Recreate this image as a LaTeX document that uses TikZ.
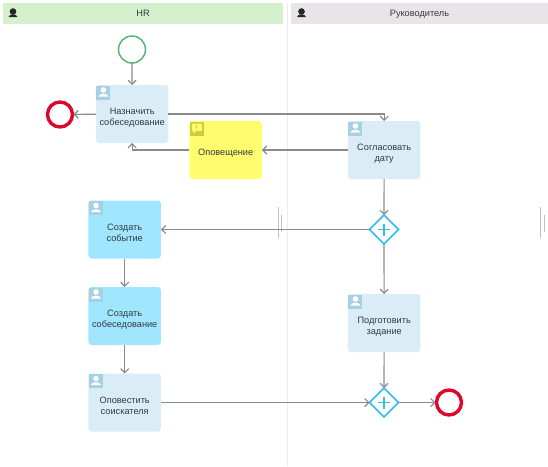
\documentclass[tikz,border=0pt]{standalone}
\usepackage{fontspec}
\setmainfont{Liberation Sans}
\usetikzlibrary{arrows.meta,calc,shapes.geometric}
\definecolor{verde}{HTML}{D5F0CC}
\definecolor{gris}{HTML}{E8E4E8}
\definecolor{claro}{HTML}{DAEDF7}
\definecolor{vivo}{HTML}{A0E6FF}
\definecolor{nota}{HTML}{FFFD6E}
\definecolor{notaicono}{HTML}{CFCB3C}
\definecolor{icono}{HTML}{A5D1E3}
\definecolor{rojo}{HTML}{E0052A}
\definecolor{inicio}{HTML}{5CB574}
\definecolor{puerta}{HTML}{2FBDEE}
\definecolor{flecha}{HTML}{8A8A8A}
\definecolor{texto}{HTML}{333A40}
\tikzset{
  >={Straight Barb[length=4pt,width=8pt]},
  flujo/.style={->, flecha, line width=1.2pt},
  carril/.style={draw=gray!15, line width=0.8pt},
  marca/.style={draw=gray!50, line width=0.8pt},
  cabecera/.style={inner sep=0pt, minimum height=21, text=texto, text height=7, text depth=1.5, font=\fontsize{9.2}{11}\selectfont},
  caja/.style={rounded corners=3pt, inner sep=0pt, minimum width=72.5, minimum height=58, outer sep=0pt},
  rotulo/.style={align=center, text=texto, font=\fontsize{9.2}{11}\selectfont, yshift=-3.5},
  tarea/.style={caja, fill=claro},
  tareaviva/.style={caja, fill=vivo},
  aviso/.style={caja, fill=nota},
  comienzo/.style={circle, draw=inicio, fill=white, line width=1.5pt, minimum size=27, inner sep=0pt, outer sep=0pt},
  fin/.style={circle, draw=rojo, fill=white, line width=3.4pt, minimum size=25, inner sep=0pt, outer sep=1pt},
  puertaand/.style={diamond, draw=puerta, fill=white, line width=1.5pt, minimum width=29, minimum height=29, inner sep=0pt, outer sep=0pt,
    path picture={\draw[puerta, line width=1.6pt] (path picture bounding box.center) +(-6,0) -- +(6,0) +(0,-6) -- +(0,6);}},
  usuario/.pic={
    \fill[icono] (0.5,0.5) rectangle (14.5,14.5);
    \fill[white] (7.5,5) circle (2.8);
    \fill[white] (2.5,11.5) .. controls (3,7.8) and (12,7.8) .. (12.5,11.5) -- cycle;
  },
  persona/.pic={
    \fill[black!85] (0,-1.5) circle (3.3);
    \fill[black!85] (-4.5,4.2) .. controls (-4,0.3) and (4,0.3) .. (4.5,4.2) -- cycle;
    \fill[black!85] (-3.2,-2) rectangle (3.2,-1.2);
  },
  globo/.pic={
    \fill[notaicono] (0.5,0.5) rectangle (14.5,14.5);
    \fill[nota, rounded corners=0.8pt] (2.5,2.5) -- (12.5,2.5) -- (12.5,10) -- (7,10) -- (4,12.8) -- (4,10) -- (2.5,10) -- cycle;
    \fill[notaicono] (7,3.8) rectangle (8,7);
    \fill[notaicono] (7,7.8) rectangle (8,8.9);
  },
}

\begin{document}
\begin{tikzpicture}[x=1pt, y=-1pt]
  \useasboundingbox (0,0) rectangle (548,466);
  \draw[carril] (287,3) -- (287,466);
  \node[cabecera, fill=verde, minimum width=280] (hr) at (143,13.5) {HR};
  \node[cabecera, fill=gris, minimum width=257] (jefe) at (419.5,13.5) {Руководитель};
  \pic at (13,13) {persona};
  \pic at (301.5,13) {persona};
  \draw[marca] (278.3,207) -- (278.3,238);
  \draw[marca] (281.7,215) -- (281.7,232);
  \draw[marca] (540.7,207) -- (540.7,238);
  \draw[marca] (544.2,215) -- (544.2,232);

  \node[comienzo] (inicio) at (132,49.5) {};
  \node[fin] (fincero) at (60,114.5) {};
  \node[tarea, label={[rotulo]center:{Назначить\\собеседование}}] (asignar) at (132.2,114) {};
  \node[aviso, label={[rotulo]center:Оповещение}] (alerta) at (225.7,150) {};
  \node[tarea, label={[rotulo]center:{Согласовать\\дату}}] (acordar) at (384.2,150) {};
  \node[puertaand] (puertauno) at (384,229.5) {};
  \node[tareaviva, label={[rotulo]center:{Создать\\событие}}] (evento) at (124.7,229.5) {};
  \node[tareaviva, label={[rotulo]center:{Создать\\собеседование}}] (entrevista) at (124.7,316) {};
  \node[tarea, label={[rotulo]center:{Оповестить\\соискателя}}] (avisar) at (124.7,402.5) {};
  \node[tarea, label={[rotulo]center:{Подготовить\\задание}}] (preparar) at (384.2,323) {};
  \node[puertaand] (puertados) at (384,402.5) {};
  \node[fin] (finuno) at (449,402.5) {};

  \foreach \caja in {asignar,acordar,evento,entrevista,avisar,preparar}
    \pic at (\caja.north west) {usuario};
  \pic at (alerta.north west) {globo};

  \draw[flujo] (inicio) -- (asignar);
  \draw[flujo] (asignar) -- (fincero);
  \draw[flujo] (asignar.east) -| (acordar.north);
  \draw[flujo] (acordar) -- (alerta);
  \draw[flujo] (alerta.west) -| (asignar.south);
  \draw[flujo] (acordar) -- (puertauno);
  \draw[flujo] (puertauno) -- (evento);
  \draw[flujo] (puertauno) -- (preparar);
  \draw[flujo] (evento) -- (entrevista);
  \draw[flujo] (entrevista) -- (avisar);
  \draw[flujo] (preparar) -- (puertados);
  \draw[flujo] (avisar) -- (puertados);
  \draw[flujo] (puertados) -- (finuno);
\end{tikzpicture}
\end{document}
